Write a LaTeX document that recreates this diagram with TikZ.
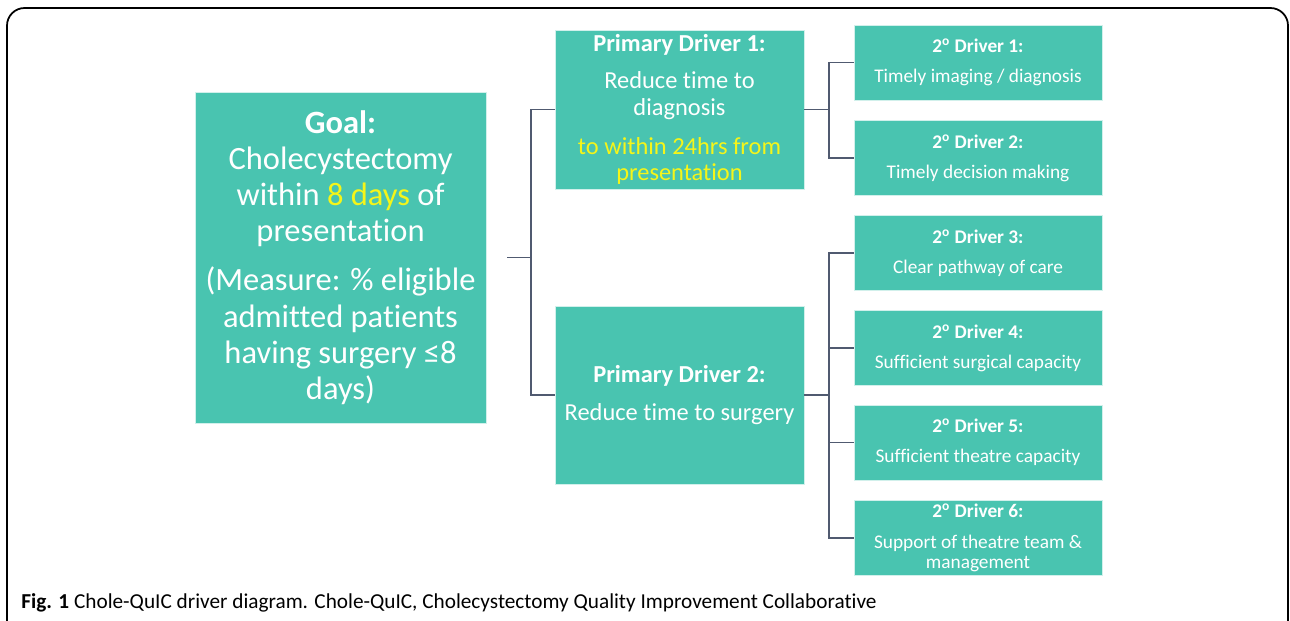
\documentclass[tikz,border=0pt]{standalone}
\usepackage{fontspec}
\setmainfont{Carlito}[Ligatures=NoCommon]
\definecolor{drvteal}{RGB}{73,196,176}
\definecolor{drvyellow}{RGB}{245,245,25}
\definecolor{drvline}{RGB}{80,90,112}
\begin{document}
\begin{tikzpicture}[x=0.02cm,y=-0.02cm]
\tikzset{drvbox/.style={draw=white!75!drvteal,fill=drvteal,text=white,align=center,inner sep=0pt,minimum width=#1},
link/.style={draw=drvline,line width=0.9pt}}
\useasboundingbox (0,0) rectangle (1290,620);
\draw[line width=1pt,rounded corners=10] (7,640) -- (7,8) -- (1288,8) -- (1288,640);
% goal
\node [drvbox=5.82cm,minimum height=6.62cm,font=\fontsize{18.5}{20.6}\selectfont] (goal) at (340.5,257.5)
{\textbf{Goal:}\\Cholecystectomy\\within \textcolor{drvyellow}{8 days} of\\presentation\\[7.4pt]
(Measure: \% eligible\\admitted patients\\having surgery ≤8\\days)};
% primary drivers
\node [drvbox=4.98cm,minimum height=3.18cm,font=\fontsize{13.9}{15.2}\selectfont] (p1) at (679.5,109.5)
{\textbf{Primary Driver 1:}\\[6pt]Reduce time to\\diagnosis\\[7pt]
\textcolor{drvyellow}{to within 24hrs from}\\\textcolor{drvyellow}{presentation}};
\node [drvbox=4.98cm,minimum height=3.56cm,font=\fontsize{13.9}{15.2}\selectfont] (p2) at (679.5,395)
{\textbf{Primary Driver 2:}\\[6.5pt]Reduce time to surgery};
% secondary drivers
\tikzset{font=\fontsize{11}{11.6}\selectfont}
\node [drvbox=4.96cm,minimum height=1.5cm] (s1) at (978,62.5)
{\textbf{2\textsuperscript{o} Driver 1:}\\[5.5pt]Timely imaging / diagnosis};
\node [drvbox=4.96cm,minimum height=1.5cm] (s2) at (978,158)
{\textbf{2\textsuperscript{o} Driver 2:}\\[5.5pt]Timely decision making};
\node [drvbox=4.96cm,minimum height=1.5cm] (s3) at (978,253)
{\textbf{2\textsuperscript{o} Driver 3:}\\[5.5pt]Clear pathway of care};
\node [drvbox=4.96cm,minimum height=1.5cm] (s4) at (978,348)
{\textbf{2\textsuperscript{o} Driver 4:}\\[5.5pt]Sufficient surgical capacity};
\node [drvbox=4.96cm,minimum height=1.5cm] (s5) at (978,442.5)
{\textbf{2\textsuperscript{o} Driver 5:}\\[5.5pt]Sufficient theatre capacity};
\node [drvbox=4.96cm,minimum height=1.5cm] (s6) at (978,538)
{\textbf{2\textsuperscript{o} Driver 6:}\\[5.5pt]Support of theatre team \&\\management};
% connectors
\coordinate (g0) at (507,257.5);
\coordinate (j0) at (531,257.5);
\coordinate (j1) at (829,109.5);
\coordinate (j2) at (829,395);
\draw[link] (g0) -- (j0);
\draw[link] (j0) |- (p1.west);
\draw[link] (j0) |- (p2.west);
\draw[link] (p1.east) -- (j1);
\foreach \i in {1,2}
\draw[link] (j1) |- (s\i.west);
\draw[link] (p2.east) -- (j2);
\foreach \i in {3,4,5,6}
\draw[link] (j2) |- (s\i.west);
% caption
\node [anchor=west,inner sep=0pt,font=\fontsize{12.1}{14}\selectfont] (cap) at (21,603)
{\textbf{Fig. 1} Chole-QuIC driver diagram. Chole-QuIC, Cholecystectomy Quality Improvement Collaborative};
\end{tikzpicture}
\end{document}
